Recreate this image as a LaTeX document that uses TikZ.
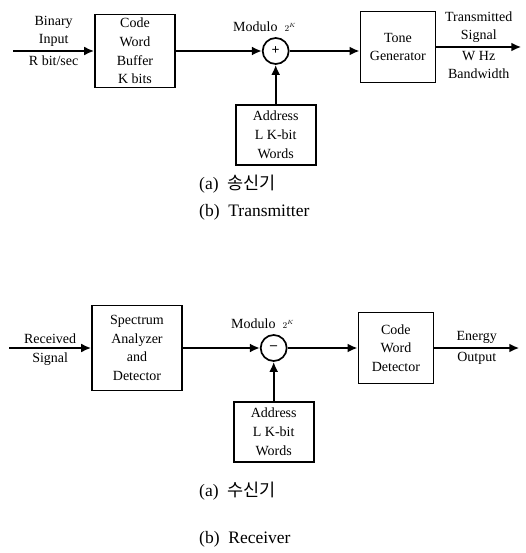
\documentclass[tikz,border=0pt]{standalone}
\usepackage{fontspec}
\setmainfont{Liberation Serif}
\newfontfamily\krfont{Noto Sans CJK KR}
\usepackage{tikz}
\usetikzlibrary{arrows,arrows.meta,positioning,calc}

\begin{document}
\begin{tikzpicture}[
    x=1pt, y=-1pt,
    block/.style={rectangle, draw=black, line width=1.7pt, inner sep=0pt, align=center, font=\fontsize{14}{18.7}\selectfont},
    adder/.style={circle, draw=black, line width=1.7pt, minimum size=26pt, inner sep=0pt, font=\bfseries\fontsize{14}{15}\selectfont},
    signal/.style={->, >={Latex[length=10pt,width=9pt]}, line width=2.2pt},
    lbl/.style={align=center, inner sep=3.5pt, font=\fontsize{14}{18}\selectfont},
    caption/.style={anchor=west, inner sep=0pt, font=\fontsize{17.5}{20}\selectfont}
]
    \useasboundingbox (0,0) rectangle (526,553);

    % transmitter
    \node[block, minimum width=80pt, minimum height=73pt] (buffer) at (135,51) {Code\\Word\\Buffer\\K bits};
    \node[adder, right=86pt of buffer] (sum1) {+};
    \node[block, minimum width=75pt, minimum height=71pt, right=70pt of sum1, yshift=4pt] (tone) {Tone\\Generator};
    \node[block, minimum width=80pt, minimum height=60pt, below=39pt of sum1] (addr1) {Address\\L K-bit\\Words};
    \node[lbl, above=2pt of sum1, xshift=-11pt] (mod1) {Modulo\ \ {\fontsize{9}{9}\selectfont$2^{K}$}};
    \coordinate[left=81pt of buffer] (in1);
    \coordinate[right=85pt of tone] (out1);

    \draw[signal] (in1) -- node[lbl, above] {Binary\\Input} node[lbl, below] {R bit/sec} (buffer);
    \draw[signal] (buffer) -- (sum1);
    \draw[signal] (sum1) -- (sum1 -| tone.west);
    \draw[signal] (addr1) -- (sum1);
    \draw[signal] (tone) -- node[lbl, above] {Transmitted\\Signal} node[lbl, below] {W Hz\\Bandwidth} (out1);

    \node[caption] (capa1) at (199,184) {(a)\ \ {\krfont 송신기}};
    \node[caption] (capb1) at (199,212) {(b)\ \ Transmitter};

    % receiver
    \node[block, minimum width=90pt, minimum height=85pt] (spec) at (137,348) {Spectrum\\Analyzer\\and\\Detector};
    \node[adder, right=77pt of spec] (sum2) {--};
    \node[block, minimum width=75pt, minimum height=71pt, right=70pt of sum2] (det) {Code\\Word\\Detector};
    \node[block, minimum width=80pt, minimum height=60pt, below=39pt of sum2] (addr2) {Address\\L K-bit\\Words};
    \node[lbl, above=2pt of sum2, xshift=-11pt] (mod2) {Modulo\ \ {\fontsize{9}{9}\selectfont$2^{K}$}};
    \coordinate[left=82pt of spec] (in2);
    \coordinate[right=85pt of det] (out2);

    \draw[signal] (in2) -- node[lbl, above] {Received} node[lbl, below] {Signal} (spec);
    \draw[signal] (spec) -- (sum2);
    \draw[signal] (sum2) -- (det);
    \draw[signal] (addr2) -- (sum2);
    \draw[signal] (det) -- node[lbl, above] {Energy} node[lbl, below] {Output} (out2);

    \node[caption] (capa2) at (199,491) {(a)\ \ {\krfont 수신기}};
    \node[caption] (capb2) at (199,539) {(b)\ \ Receiver};
\end{tikzpicture}
\end{document}
